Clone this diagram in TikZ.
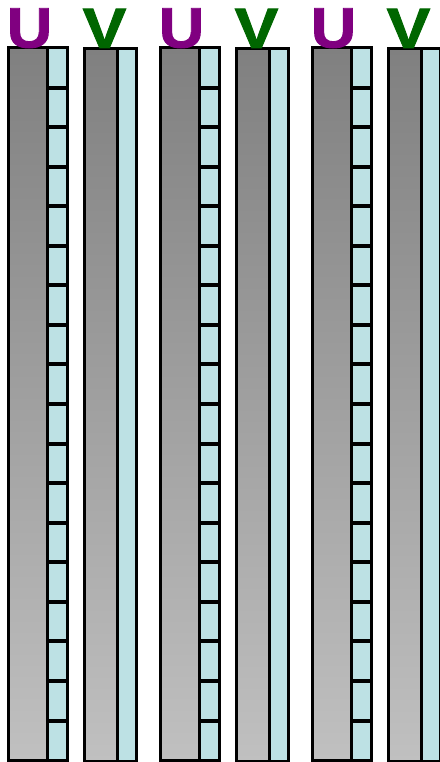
\documentclass[tikz,border=0pt]{standalone}
\usepackage{fontspec}
\setmainfont{Liberation Sans}
\newfontfamily\heavyfont[FakeBold=1.5]{Liberation Sans Bold}
\definecolor{ucol}{RGB}{128,0,128}
\definecolor{vcol}{RGB}{0,102,0}
\definecolor{cy}{RGB}{189,225,228}
\definecolor{gtop}{RGB}{128,128,128}
\definecolor{gbot}{RGB}{192,192,192}
\tikzset{
  grayfill/.style={top color=gtop, bottom color=gbot, draw=black, line width=3pt},
  cyfill/.style={fill=cy, draw=black, line width=3pt},
  tick/.style={draw=black, line width=4pt},
  letter/.style={font=\fontsize{57}{57}\selectfont\heavyfont, anchor=base, inner sep=0pt}
}
\begin{document}
\begin{tikzpicture}[x=1pt,y=-1pt]
\useasboundingbox (0,0) rectangle (439,762);
\foreach \i in {0,1,2}{
  \pgfmathsetmacro{\ox}{152*\i}
  % U column
  \path[grayfill] (\ox+8.5,48) rectangle (\ox+47,760);
  \path[cyfill] (\ox+47,48) rectangle (\ox+67,760);
  \foreach \k in {1,...,17}{
    \path[tick] (\ox+47,48+39.56*\k) -- (\ox+67,48+39.56*\k);
  }
  \node[letter, text=ucol] (u\i) at (\ox+29.5,47.5) {\scalebox{1.1}[1]{U}};
  % V column
  \path[grayfill] (\ox+84.5,49) rectangle (\ox+117,761);
  \path[cyfill] (\ox+117,49) rectangle (\ox+136,761);
  \node[letter, text=vcol] (v\i) at (\ox+104.5,48) {\scalebox{1.15}[1]{V}};
}
\end{tikzpicture}
\end{document}
